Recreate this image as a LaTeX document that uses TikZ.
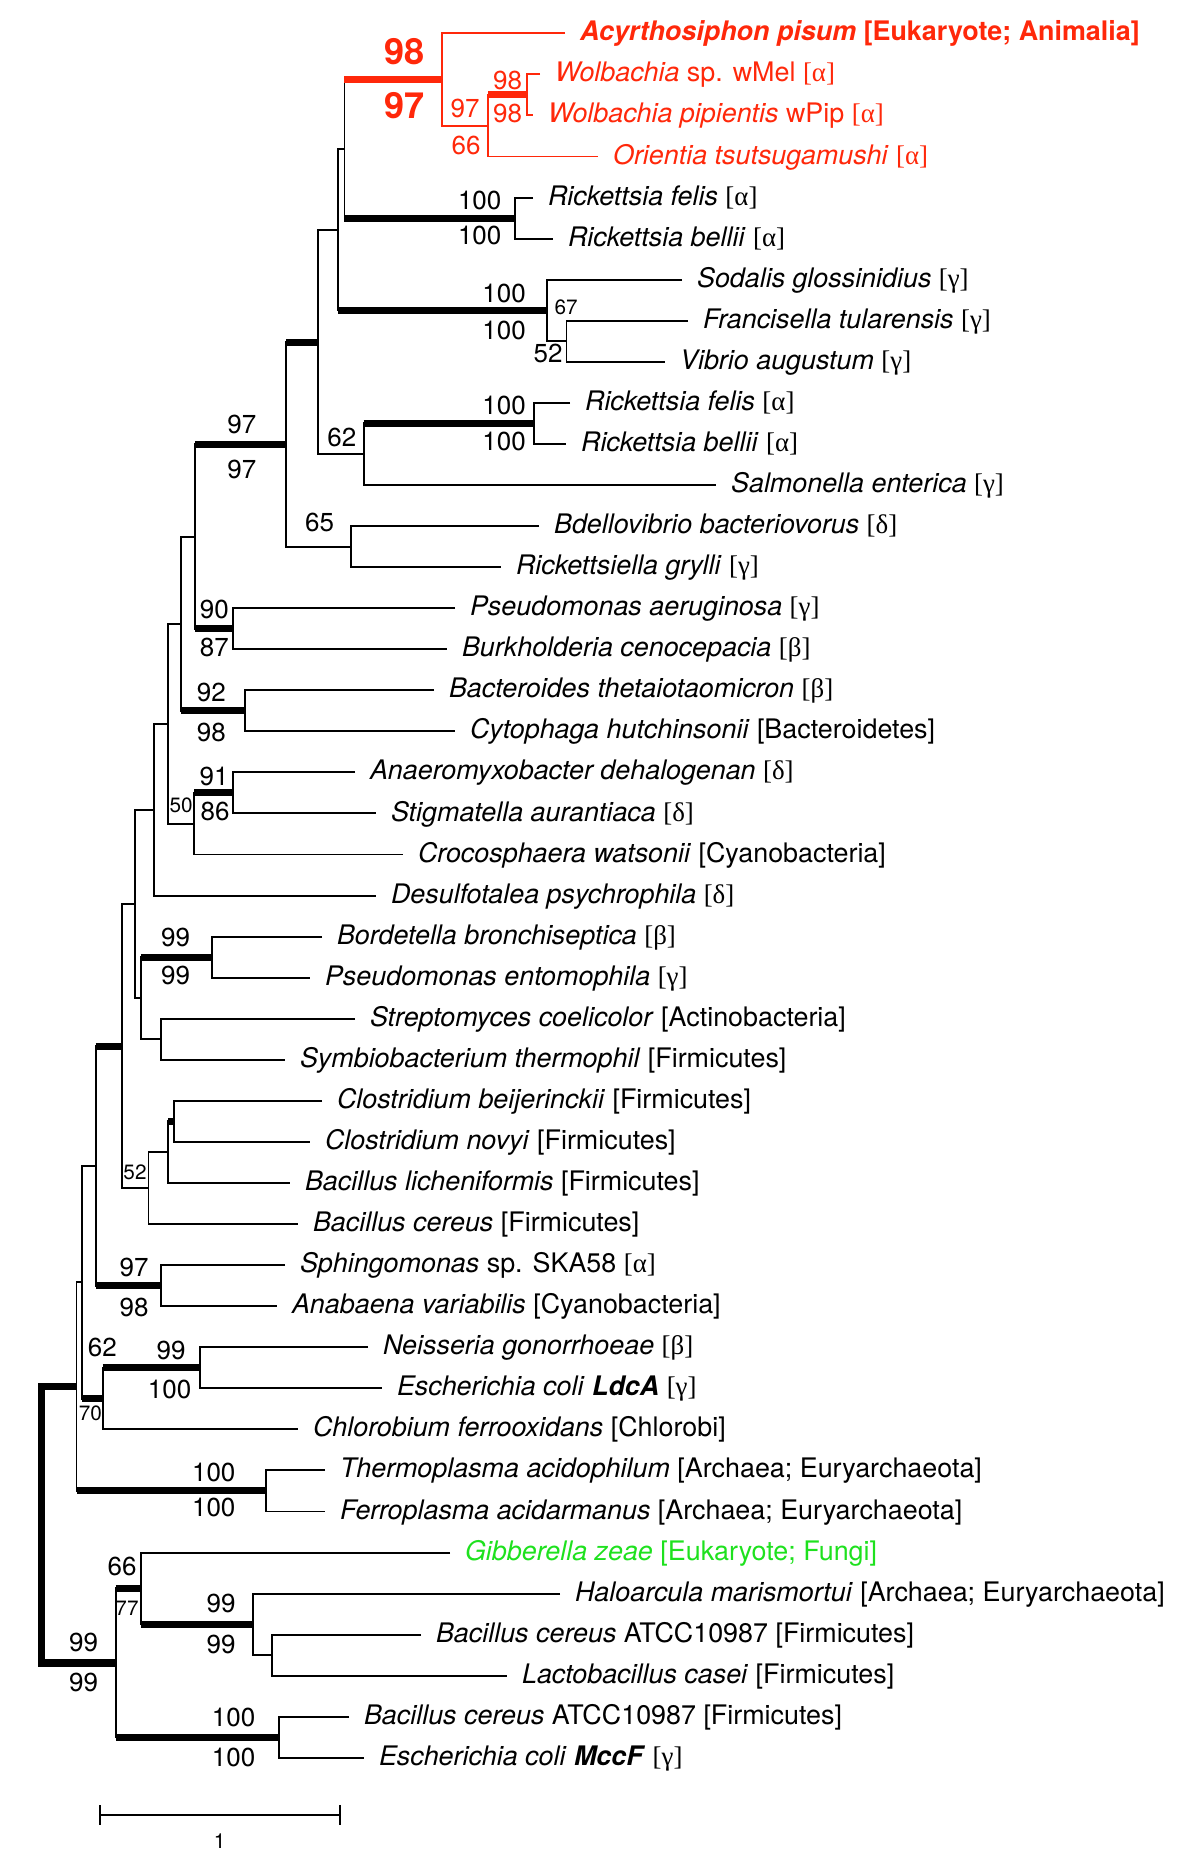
\documentclass[tikz,border=0pt]{standalone}
\usepackage{fontspec}
\setmainfont{TeX Gyre Heros}
\newfontfamily\grk{Liberation Serif}
\usepackage{tikz}
\usetikzlibrary{arrows.meta}

\definecolor{treered}{RGB}{255,40,10}
\definecolor{treegreen}{RGB}{30,225,30}
\newcommand{\alf}{{\grk[α]}}
\newcommand{\bta}{{\grk[β]}}
\newcommand{\gma}{{\grk[γ]}}
\newcommand{\dlt}{{\grk[δ]}}

\begin{document}
\begin{tikzpicture}[x=0.02cm,y=-0.8212cm,line width=1.1pt,
                    >={Bar[width=0.4cm]}]
  \tikzstyle{leaf}=[anchor=west,inner xsep=0.28cm,inner ysep=0pt,
                    text height=11pt,text depth=2.4pt,
                    font=\fontsize{15.3}{18}\selectfont]
  \tikzstyle{sup}=[inner sep=0pt,font=\fontsize{14.8}{16}\selectfont]
  \tikzstyle{supsmall}=[inner sep=0pt,font=\fontsize{11.8}{14}\selectfont]
  \tikzstyle{supbig}=[inner sep=0pt,text=treered,
                      font=\fontsize{20.5}{24}\selectfont\bfseries]
  \tikzstyle{stem}=[line width=4pt]

  \useasboundingbox (0,-0.811) rectangle (1200,44.513);

  % internal nodes
  \coordinate (wol)  at (527,1.5);
  \coordinate (ori)  at (488,2.25);
  \coordinate (euk)  at (442,1.125);
  \coordinate (ric1) at (515,4.5);
  \coordinate (a1)   at (344.4,2.81);
  \coordinate (vib)  at (566.4,7.5);
  \coordinate (sod)  at (547.3,6.75);
  \coordinate (a2)   at (337.5,4.78);
  \coordinate (ric2) at (534,9.5);
  \coordinate (sal)  at (363.6,10.25);
  \coordinate (a3)   at (317.6,7.52);
  \coordinate (bde)  at (351,12.5);
  \coordinate (a4)   at (286,10.01);
  \coordinate (pae)  at (232.7,14.5);
  \coordinate (a5)   at (195,12.26);
  \coordinate (bac)  at (245,16.5);
  \coordinate (a6)   at (180.6,14.38);
  \coordinate (ana)  at (232.7,18.5);
  \coordinate (cro)  at (194.4,19.25);
  \coordinate (a7)   at (168.4,16.82);
  \coordinate (a8)   at (153.8,18.91);
  \coordinate (bor)  at (212.4,22.5);
  \coordinate (str)  at (160.7,24.5);
  \coordinate (b1)   at (140.8,23.5);
  \coordinate (a9)   at (134.7,21.2);
  \coordinate (clo)  at (174,26.5);
  \coordinate (cl2)  at (168.4,27.25);
  \coordinate (bce)  at (148.5,28.13);
  \coordinate (a10)  at (121.7,24.67);
  \coordinate (sph)  at (160.7,30.5);
  \coordinate (a11)  at (95.7,27.58);
  \coordinate (nei)  at (199.8,32.5);
  \coordinate (chl)  at (102.6,33.25);
  \coordinate (a12)  at (82.3,30.42);
  \coordinate (the)  at (266,35.5);
  \coordinate (a13)  at (76.5,32.96);
  \coordinate (lac)  at (271.7,39.5);
  \coordinate (hal)  at (252.6,38.75);
  \coordinate (gib)  at (140.8,37.875);
  \coordinate (mcc)  at (279.4,41.5);
  \coordinate (b)    at (115.6,39.69);
  \coordinate (root) at (41.3,36.3);

  % leaves
  \node[leaf,text=treered] (l0) at (565,0)
       {\textbf{\textit{Acyrthosiphon pisum} [Eukaryote; Animalia]}};
  \node[leaf,text=treered] (l1) at (540,1) {\textit{Wolbachia} sp. wMel \alf};
  \node[leaf,text=treered] (l2) at (533,2) {\textit{Wolbachia pipientis} wPip \alf};
  \node[leaf,text=treered] (l3) at (598,3) {\textit{Orientia tsutsugamushi} \alf};
  \node[leaf] (l4)  at (533,4)  {\textit{Rickettsia felis} \alf};
  \node[leaf] (l5)  at (553,5)  {\textit{Rickettsia bellii} \alf};
  \node[leaf] (l6)  at (682,6)  {\textit{Sodalis glossinidius} \gma};
  \node[leaf] (l7)  at (688,7)  {\textit{Francisella tularensis} \gma};
  \node[leaf] (l8)  at (665,8)  {\textit{Vibrio augustum} \gma};
  \node[leaf] (l9)  at (570,9)  {\textit{Rickettsia felis} \alf};
  \node[leaf] (l10) at (566,10) {\textit{Rickettsia bellii} \alf};
  \node[leaf] (l11) at (716,11) {\textit{Salmonella enterica} \gma};
  \node[leaf] (l12) at (539,12) {\textit{Bdellovibrio bacteriovorus} \dlt};
  \node[leaf] (l13) at (501,13) {\textit{Rickettsiella grylli} \gma};
  \node[leaf] (l14) at (455,14) {\textit{Pseudomonas aeruginosa} \gma};
  \node[leaf] (l15) at (447,15) {\textit{Burkholderia cenocepacia} \bta};
  \node[leaf] (l16) at (434,16) {\textit{Bacteroides thetaiotaomicron} \bta};
  \node[leaf] (l17) at (455,17) {\textit{Cytophaga hutchinsonii} [Bacteroidetes]};
  \node[leaf] (l18) at (355,18) {\textit{Anaeromyxobacter dehalogenan} \dlt};
  \node[leaf] (l19) at (376,19) {\textit{Stigmatella aurantiaca} \dlt};
  \node[leaf] (l20) at (403,20) {\textit{Crocosphaera watsonii} [Cyanobacteria]};
  \node[leaf] (l21) at (376,21) {\textit{Desulfotalea psychrophila} \dlt};
  \node[leaf] (l22) at (322,22) {\textit{Bordetella bronchiseptica} \bta};
  \node[leaf] (l23) at (310,23) {\textit{Pseudomonas entomophila} \gma};
  \node[leaf] (l24) at (355,24) {\textit{Streptomyces coelicolor} [Actinobacteria]};
  \node[leaf] (l25) at (285,25) {\textit{Symbiobacterium thermophil} [Firmicutes]};
  \node[leaf] (l26) at (322,26) {\textit{Clostridium beijerinckii} [Firmicutes]};
  \node[leaf] (l27) at (310,27) {\textit{Clostridium novyi} [Firmicutes]};
  \node[leaf] (l28) at (290,28) {\textit{Bacillus licheniformis} [Firmicutes]};
  \node[leaf] (l29) at (298,29) {\textit{Bacillus cereus} [Firmicutes]};
  \node[leaf] (l30) at (285,30) {\textit{Sphingomonas} sp. SKA58 \alf};
  \node[leaf] (l31) at (277,31) {\textit{Anabaena variabilis} [Cyanobacteria]};
  \node[leaf] (l32) at (368,32) {\textit{Neisseria gonorrhoeae} \bta};
  \node[leaf] (l33) at (382,33) {\textit{Escherichia coli} \textbf{\textit{LdcA}} \gma};
  \node[leaf] (l34) at (298,34) {\textit{Chlorobium ferrooxidans} [Chlorobi]};
  \node[leaf] (l35) at (325,35) {\textit{Thermoplasma acidophilum} [Archaea; Euryarchaeota]};
  \node[leaf] (l36) at (325,36) {\textit{Ferroplasma acidarmanus} [Archaea; Euryarchaeota]};
  \node[leaf,text=treegreen] (l37) at (450,37) {\textit{Gibberella zeae} [Eukaryote; Fungi]};
  \node[leaf] (l38) at (560,38) {\textit{Haloarcula marismortui} [Archaea; Euryarchaeota]};
  \node[leaf] (l39) at (421,39) {\textit{Bacillus cereus} ATCC10987 [Firmicutes]};
  \node[leaf] (l40) at (507,40) {\textit{Lactobacillus casei} [Firmicutes]};
  \node[leaf] (l41) at (349,41) {\textit{Bacillus cereus} ATCC10987 [Firmicutes]};
  \node[leaf] (l42) at (364,42) {\textit{Escherichia coli} \textbf{\textit{MccF}} \gma};

  % branches
  \draw[treered] (l1) -| (wol) |- (l2);
  \draw[treered] (wol) -| (ori) |- (l3);
  \draw[treered] (l0) -| (euk) |- (ori);
  \draw (l4) -| (ric1) |- (l5);
  \draw (euk) -| (a1) |- (ric1);
  \draw (l7) -| (vib) |- (l8);
  \draw (l6) -| (sod) |- (vib);
  \draw (a1) -| (a2) |- (sod);
  \draw (l9) -| (ric2) |- (l10);
  \draw (ric2) -| (sal) |- (l11);
  \draw (a2) -| (a3) |- (sal);
  \draw (l12) -| (bde) |- (l13);
  \draw (a3) -| (a4) |- (bde);
  \draw (l14) -| (pae) |- (l15);
  \draw (a4) -| (a5) |- (pae);
  \draw (l16) -| (bac) |- (l17);
  \draw (a5) -| (a6) |- (bac);
  \draw (l18) -| (ana) |- (l19);
  \draw (ana) -| (cro) |- (l20);
  \draw (a6) -| (a7) |- (cro);
  \draw (a7) -| (a8) |- (l21);
  \draw (l22) -| (bor) |- (l23);
  \draw (l24) -| (str) |- (l25);
  \draw (bor) -| (b1) |- (str);
  \draw (a8) -| (a9) |- (b1);
  \draw (l26) -| (clo) |- (l27);
  \draw (clo) -| (cl2) |- (l28);
  \draw (cl2) -| (bce) |- (l29);
  \draw (a9) -| (a10) |- (bce);
  \draw (l30) -| (sph) |- (l31);
  \draw (a10) -| (a11) |- (sph);
  \draw (l32) -| (nei) |- (l33);
  \draw (nei) -| (chl) |- (l34);
  \draw (a11) -| (a12) |- (chl);
  \draw (l35) -| (the) |- (l36);
  \draw (a12) -| (a13) |- (the);
  \draw (l39) -| (lac) |- (l40);
  \draw (l38) -| (hal) |- (lac);
  \draw (l37) -| (gib) |- (hal);
  \draw (l41) -| (mcc) |- (l42);
  \draw (gib) -| (b) |- (mcc);
  \draw[stem] (a13) -| (root) |- (b);

  % well supported branches
  \draw[stem,treered] (a1 |- euk) -- (euk);
  \draw[stem,treered] (ori |- wol) -- (wol);
  \draw[stem] (a1 |- ric1) -- (ric1);
  \draw[stem] (a2 |- sod) -- (sod);
  \draw[stem] (a4 |- a3) -- (a3);
  \draw[stem] (sal |- ric2) -- (ric2);
  \draw[stem] (a5 |- a4) -- (a4);
  \draw[stem] (a5 |- pae) -- (pae);
  \draw[stem] (a6 |- bac) -- (bac);
  \draw[stem] (cro |- ana) -- (ana);
  \draw[stem] (b1 |- bor) -- (bor);
  \draw[stem] (a11 |- a10) -- (a10);
  \draw[stem] (cl2 |- clo) -- (clo);
  \draw[stem] (a11 |- sph) -- (sph);
  \draw[stem] (a12 |- chl) -- (chl);
  \draw[stem] (chl |- nei) -- (nei);
  \draw[stem] (a13 |- the) -- (the);
  \draw[stem] (b |- gib) -- (gib);
  \draw[stem] (gib |- hal) -- (hal);
  \draw[stem] (b |- mcc) -- (mcc);

  % support values
  \node[supbig] (v1) at (404.6,0.44) {98};
  \node[supbig] (v2) at (404.6,1.77) {97};
  \node[sup,text=treered] (v3) at (507.5,1.14) {98};
  \node[sup,text=treered] (v4) at (507.5,1.95) {98};
  \node[sup,text=treered] (v5) at (465,1.84) {97};
  \node[sup,text=treered] (v6) at (466,2.72) {66};
  \node[sup] (v7)  at (479.6,4.08) {100};
  \node[sup] (v8)  at (479.6,4.93) {100};
  \node[sup] (v9)  at (504,6.33) {100};
  \node[sup] (v10) at (504,7.23) {100};
  \node[supsmall] (v11) at (566,6.68) {67};
  \node[sup] (v12) at (548,7.79) {52};
  \node[sup] (v13) at (241.7,9.52) {97};
  \node[sup] (v14) at (241.7,10.62) {97};
  \node[sup] (v15) at (341.7,9.84) {62};
  \node[sup] (v16) at (504,9.07) {100};
  \node[sup] (v17) at (504,9.93) {100};
  \node[sup] (v18) at (319.5,11.91) {65};
  \node[sup] (v19) at (214.3,14.03) {90};
  \node[sup] (v20) at (214.3,14.96) {87};
  \node[sup] (v21) at (211.4,16.05) {92};
  \node[sup] (v22) at (211.4,17.03) {98};
  \node[sup] (v23) at (214,18.1) {91};
  \node[sup] (v24) at (215,18.96) {86};
  \node[supsmall] (v25) at (181,18.81) {50};
  \node[sup] (v26) at (175.6,22.02) {99};
  \node[sup] (v27) at (175.6,22.95) {99};
  \node[supsmall] (v28) at (135,27.74) {52};
  \node[sup] (v29) at (134,30.06) {97};
  \node[sup] (v30) at (134,31.03) {98};
  \node[sup] (v31) at (102.4,32.01) {62};
  \node[sup] (v32) at (171,32.07) {99};
  \node[sup] (v33) at (169.5,33.04) {100};
  \node[supsmall] (v34) at (90.3,33.6) {70};
  \node[sup] (v35) at (213.7,35.06) {100};
  \node[sup] (v36) at (213.7,35.9) {100};
  \node[sup] (v37) at (122,37.35) {66};
  \node[supsmall] (v38) at (127,38.35) {77};
  \node[sup] (v39) at (221,38.25) {99};
  \node[sup] (v40) at (221,39.23) {99};
  \node[sup] (v41) at (83.5,39.2) {99};
  \node[sup] (v42) at (83.5,40.16) {99};
  \node[sup] (v43) at (233.6,41.02) {100};
  \node[sup] (v44) at (233.6,42.0) {100};

  % scale bar
  \coordinate (sbl) at (98.7,43.39);
  \coordinate (sbr) at (340.6,43.39);
  \draw[>-<] (sbl) -- (sbr);
  \node[supsmall] (sbt) at (219.6,44.03) {1};
\end{tikzpicture}
\end{document}
